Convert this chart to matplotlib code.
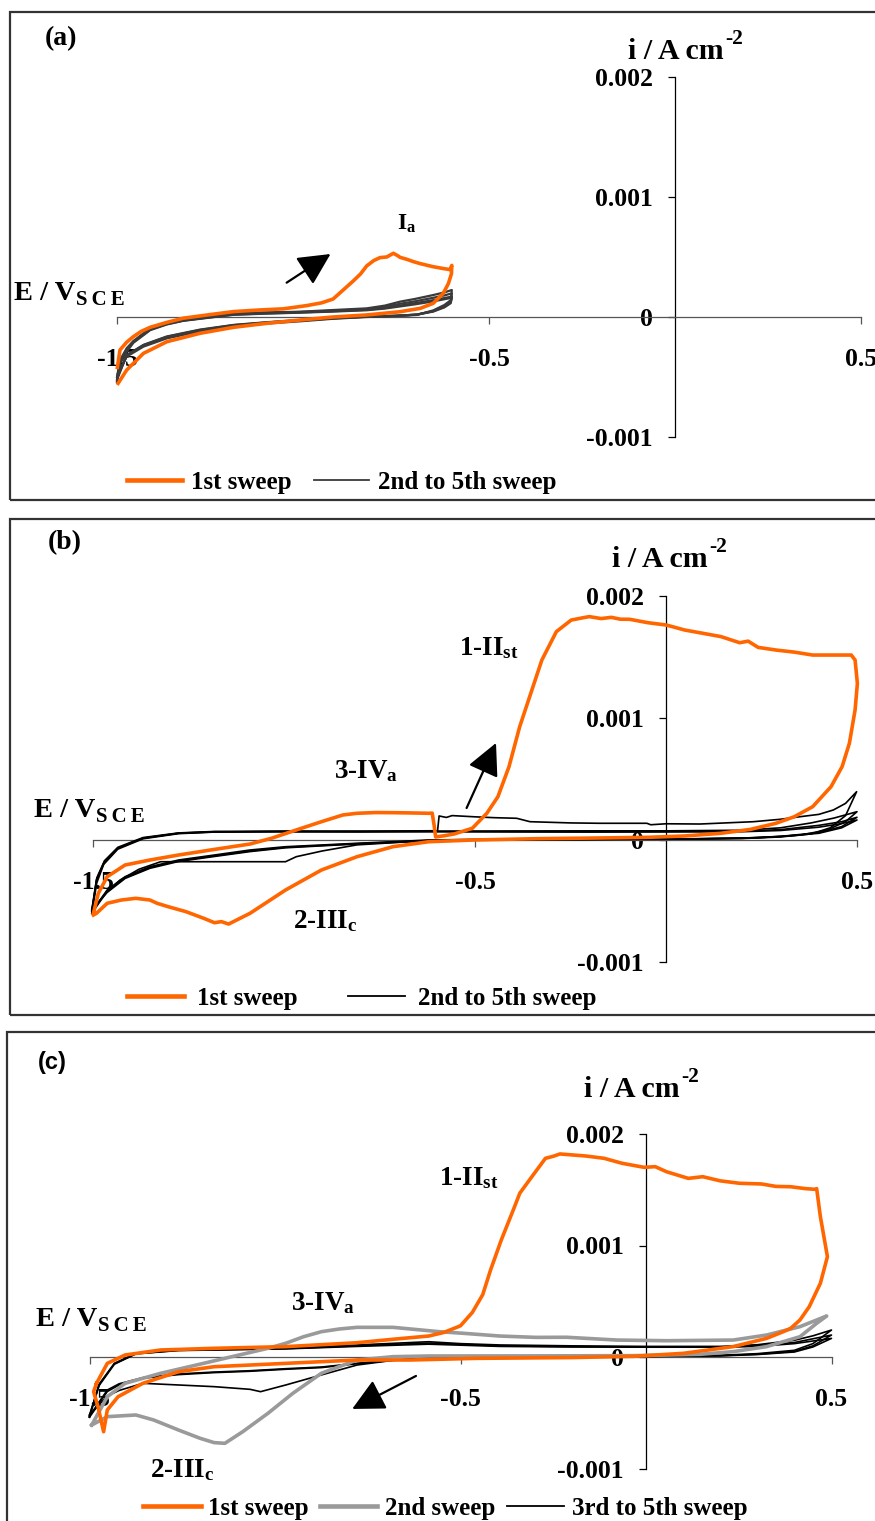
import numpy as np
import matplotlib
matplotlib.use("Agg")
import matplotlib.pyplot as plt
from matplotlib.lines import Line2D
from matplotlib.patches import Rectangle

plt.rcParams['font.family'] = ['Liberation Serif', 'DejaVu Serif']
plt.rcParams['font.weight'] = 'bold'
plt.rcParams['mathtext.default'] = 'regular'

# ---- data: (E / V_SCE, i / mA cm-2) ----
xticks = [-1.5, -0.5, 0.5]
xtick_labels = ["-1.5", "-0.5", "0.5"]
yticks = [-0.001, 0, 0.001, 0.002]
ytick_labels = ["-0.001", "0", "0.001", "0.002"]

# panel (a)
a_sweep1 = [(-1.499, -0.42), (-1.492, -0.275), (-1.474, -0.21), (-1.456, -0.164), (-1.435, -0.12),
            (-1.411, -0.086), (-1.366, -0.045), (-1.322, -0.01), (-1.25, 0.02), (-1.187, 0.045),
            (-1.12, 0.058), (-1.053, 0.068), (-0.99, 0.095), (-0.95, 0.118), (-0.919, 0.15),
            (-0.892, 0.225), (-0.865, 0.30), (-0.845, 0.36), (-0.829, 0.425), (-0.81, 0.47),
            (-0.793, 0.495), (-0.775, 0.50), (-0.757, 0.531), (-0.745, 0.51), (-0.739, 0.497),
            (-0.72, 0.48), (-0.703, 0.461), (-0.685, 0.445), (-0.665, 0.43), (-0.65, 0.419),
            (-0.625, 0.405), (-0.605, 0.395), (-0.600, 0.43), (-0.601, 0.36), (-0.609, 0.28),
            (-0.623, 0.197), (-0.65, 0.114), (-0.685, 0.072), (-0.739, 0.044), (-0.829, 0.017),
            (-0.919, 0.0), (-1.008, -0.025), (-1.098, -0.053), (-1.187, -0.086), (-1.277, -0.136),
            (-1.366, -0.206), (-1.429, -0.303), (-1.474, -0.442), (-1.497, -0.553)]
a_sweep2 = [(-1.500, -0.50), (-1.492, -0.36), (-1.474, -0.26), (-1.456, -0.20), (-1.411, -0.094),
            (-1.366, -0.05), (-1.322, -0.025), (-1.25, 0.005), (-1.187, 0.031), (-1.10, 0.038),
            (-1.008, 0.044), (-0.92, 0.058), (-0.829, 0.072), (-0.78, 0.095), (-0.739, 0.128),
            (-0.70, 0.15), (-0.65, 0.183), (-0.62, 0.205), (-0.600, 0.225), (-0.602, 0.142),
            (-0.62, 0.10), (-0.65, 0.055), (-0.694, 0.017), (-0.75, 0.008), (-0.829, 0.0),
            (-0.92, -0.015), (-1.008, -0.036), (-1.10, -0.055), (-1.187, -0.078), (-1.277, -0.12),
            (-1.366, -0.178), (-1.429, -0.247), (-1.474, -0.33), (-1.497, -0.47)]
a_sweep3 = [(-1.500, -0.52), (-1.492, -0.37), (-1.474, -0.27), (-1.456, -0.205), (-1.411, -0.10),
            (-1.366, -0.055), (-1.322, -0.028), (-1.25, 0.0), (-1.187, 0.025), (-1.10, 0.035),
            (-1.008, 0.042), (-0.92, 0.052), (-0.829, 0.066), (-0.78, 0.085), (-0.739, 0.11),
            (-0.70, 0.13), (-0.65, 0.16), (-0.62, 0.18), (-0.600, 0.197), (-0.603, 0.13),
            (-0.62, 0.09), (-0.65, 0.05), (-0.694, 0.02), (-0.75, 0.01), (-0.829, 0.002),
            (-0.92, -0.012), (-1.008, -0.03), (-1.10, -0.05), (-1.187, -0.072), (-1.277, -0.112),
            (-1.366, -0.17), (-1.429, -0.24), (-1.474, -0.325), (-1.497, -0.48)]
a_sweep4 = [(-1.500, -0.53), (-1.492, -0.38), (-1.474, -0.28), (-1.456, -0.21), (-1.411, -0.105),
            (-1.366, -0.06), (-1.322, -0.03), (-1.25, -0.003), (-1.187, 0.02), (-1.10, 0.03),
            (-1.008, 0.038), (-0.92, 0.048), (-0.829, 0.06), (-0.78, 0.075), (-0.739, 0.095),
            (-0.70, 0.115), (-0.65, 0.14), (-0.62, 0.158), (-0.600, 0.17), (-0.603, 0.12),
            (-0.62, 0.085), (-0.65, 0.048), (-0.694, 0.02), (-0.75, 0.01), (-0.829, 0.003),
            (-0.92, -0.01), (-1.008, -0.027), (-1.10, -0.046), (-1.187, -0.068), (-1.277, -0.108),
            (-1.366, -0.165), (-1.429, -0.235), (-1.474, -0.32), (-1.497, -0.49)]
a_sweep5 = [(-1.500, -0.54), (-1.492, -0.39), (-1.474, -0.29), (-1.456, -0.215), (-1.411, -0.11),
            (-1.366, -0.062), (-1.322, -0.032), (-1.25, -0.005), (-1.187, 0.018), (-1.10, 0.028),
            (-1.008, 0.036), (-0.92, 0.045), (-0.829, 0.056), (-0.78, 0.07), (-0.739, 0.088),
            (-0.70, 0.105), (-0.65, 0.13), (-0.62, 0.148), (-0.600, 0.16), (-0.603, 0.115),
            (-0.62, 0.08), (-0.65, 0.045), (-0.694, 0.02), (-0.75, 0.01), (-0.829, 0.004),
            (-0.92, -0.008), (-1.008, -0.025), (-1.10, -0.044), (-1.187, -0.066), (-1.277, -0.105),
            (-1.366, -0.162), (-1.429, -0.232), (-1.474, -0.318), (-1.497, -0.50)]

# panel (b)
b_sweep1 = [(-1.499, -0.601), (-1.486, -0.437), (-1.463, -0.301), (-1.416, -0.205), (-1.351, -0.164),
            (-1.276, -0.123), (-1.182, -0.077), (-1.089, -0.033), (-1.033, 0.014), (-0.968, 0.082),
            (-0.902, 0.150), (-0.846, 0.205), (-0.809, 0.219), (-0.76, 0.225), (-0.715, 0.224),
            (-0.67, 0.222), (-0.621, 0.219), (-0.612, 0.22), (-0.607, 0.12), (-0.603, 0.025),
            (-0.58, 0.035), (-0.555, 0.049), (-0.507, 0.096), (-0.469, 0.219), (-0.440, 0.355),
            (-0.411, 0.601), (-0.383, 0.929), (-0.354, 1.202), (-0.325, 1.475), (-0.287, 1.708),
            (-0.248, 1.803), (-0.22, 1.82), (-0.201, 1.831), (-0.17, 1.815), (-0.143, 1.825),
            (-0.12, 1.81), (-0.095, 1.809), (-0.047, 1.781), (0.001, 1.762), (0.049, 1.721),
            (0.097, 1.694), (0.144, 1.667), (0.193, 1.617), (0.215, 1.63), (0.241, 1.579),
            (0.288, 1.557), (0.336, 1.54), (0.384, 1.516), (0.43, 1.516), (0.485, 1.516),
            (0.495, 1.475), (0.501, 1.284), (0.495, 1.066), (0.480, 0.792), (0.461, 0.601),
            (0.432, 0.437), (0.384, 0.273), (0.336, 0.191), (0.288, 0.137), (0.221, 0.087),
            (0.144, 0.055), (0.049, 0.033), (-0.047, 0.022), (-0.191, 0.016), (-0.335, 0.011),
            (-0.503, 0.0), (-0.621, -0.014), (-0.715, -0.055), (-0.809, -0.137), (-0.902, -0.246),
            (-0.996, -0.410), (-1.089, -0.601), (-1.145, -0.689), (-1.164, -0.669), (-1.182, -0.678),
            (-1.210, -0.642), (-1.257, -0.587), (-1.304, -0.546), (-1.332, -0.519), (-1.351, -0.492),
            (-1.388, -0.478), (-1.426, -0.492), (-1.463, -0.519), (-1.491, -0.601), (-1.499, -0.615)]
b_sweep2 = [(-1.503, -0.587), (-1.491, -0.328), (-1.472, -0.191), (-1.435, -0.068), (-1.369, 0.014),
            (-1.276, 0.055), (-1.182, 0.066), (-1.0, 0.07), (-0.8, 0.072), (-0.65, 0.075),
            (-0.598, 0.076), (-0.594, 0.197), (-0.575, 0.185), (-0.56, 0.2), (-0.50, 0.19),
            (-0.45, 0.183), (-0.391, 0.178), (-0.356, 0.150), (-0.25, 0.14), (-0.173, 0.137),
            (-0.05, 0.137), (-0.04, 0.125), (0.0, 0.133), (0.089, 0.131), (0.229, 0.150),
            (0.30, 0.17), (0.351, 0.191), (0.40, 0.21), (0.438, 0.246), (0.47, 0.30), (0.499, 0.396),
            (0.47, 0.2), (0.43, 0.1), (0.38, 0.05), (0.3, 0.025), (0.2, 0.012), (0.0, 0.008),
            (-0.3, 0.006), (-0.5, 0.005), (-0.621, 0.0), (-0.715, -0.014), (-0.809, -0.027),
            (-0.902, -0.041), (-0.996, -0.055), (-1.089, -0.082), (-1.182, -0.123), (-1.276, -0.164),
            (-1.351, -0.219), (-1.416, -0.301), (-1.463, -0.410), (-1.503, -0.587)]
b_sweep3 = [(-1.503, -0.60), (-1.49, -0.35), (-1.472, -0.2), (-1.435, -0.075), (-1.369, 0.01),
            (-1.276, 0.052), (-1.182, 0.065), (-1.0, 0.07), (-0.8, 0.07), (-0.6, 0.072),
            (-0.4, 0.074), (-0.2, 0.075), (0.0, 0.075), (0.2, 0.08), (0.3, 0.1), (0.38, 0.14),
            (0.44, 0.18), (0.5, 0.232), (0.47, 0.15), (0.42, 0.08), (0.35, 0.04), (0.25, 0.02),
            (0.1, 0.01), (-0.2, 0.005), (-0.5, 0.0), (-0.65, -0.01), (-0.809, -0.04), (-0.9, -0.09),
            (-0.968, -0.137), (-0.996, -0.178), (-1.1, -0.178), (-1.2, -0.178), (-1.323, -0.178),
            (-1.38, -0.24), (-1.43, -0.33), (-1.465, -0.43), (-1.503, -0.60)]
b_sweep4 = [(-1.503, -0.58), (-1.49, -0.32), (-1.47, -0.18), (-1.435, -0.065), (-1.369, 0.016),
            (-1.276, 0.056), (-1.182, 0.068), (-1.0, 0.068), (-0.8, 0.066), (-0.6, 0.07),
            (-0.4, 0.07), (-0.2, 0.068), (0.0, 0.07), (0.2, 0.072), (0.3, 0.085), (0.4, 0.12),
            (0.46, 0.15), (0.5, 0.186), (0.46, 0.11), (0.4, 0.06), (0.3, 0.03), (0.2, 0.015),
            (0.0, 0.008), (-0.3, 0.005), (-0.5, 0.003), (-0.621, -0.004), (-0.715, -0.018),
            (-0.809, -0.03), (-0.902, -0.045), (-0.996, -0.06), (-1.089, -0.09), (-1.182, -0.13),
            (-1.276, -0.17), (-1.351, -0.225), (-1.416, -0.31), (-1.463, -0.42), (-1.503, -0.58)]
b_sweep5 = [(-1.503, -0.57), (-1.49, -0.31), (-1.47, -0.17), (-1.435, -0.06), (-1.369, 0.02),
            (-1.276, 0.058), (-1.182, 0.07), (-1.0, 0.072), (-0.8, 0.07), (-0.6, 0.068),
            (-0.4, 0.066), (-0.2, 0.065), (0.0, 0.066), (0.2, 0.068), (0.3, 0.078), (0.4, 0.105),
            (0.46, 0.135), (0.5, 0.164), (0.46, 0.1), (0.4, 0.055), (0.3, 0.028), (0.2, 0.014),
            (0.0, 0.006), (-0.3, 0.003), (-0.5, 0.002), (-0.621, -0.006), (-0.715, -0.02),
            (-0.809, -0.033), (-0.902, -0.048), (-0.996, -0.064), (-1.089, -0.095), (-1.182, -0.135),
            (-1.276, -0.176), (-1.351, -0.232), (-1.416, -0.315), (-1.463, -0.43), (-1.503, -0.57)]

# panel (c)
c_sweep1 = [(-1.481, -0.236), (-1.452, -0.057), (-1.404, 0.018), (-1.308, 0.063), (-1.164, 0.078),
            (-0.971, 0.093), (-0.779, 0.128), (-0.682, 0.159), (-0.586, 0.188), (-0.545, 0.22),
            (-0.50, 0.28), (-0.468, 0.40), (-0.44, 0.56), (-0.419, 0.78), (-0.390, 1.05),
            (-0.360, 1.30), (-0.340, 1.47), (-0.301, 1.647), (-0.271, 1.782), (-0.25, 1.80),
            (-0.232, 1.821), (-0.163, 1.803), (-0.113, 1.782), (-0.064, 1.737), (-0.005, 1.701),
            (0.025, 1.707), (0.055, 1.662), (0.114, 1.602), (0.153, 1.617), (0.20, 1.58),
            (0.252, 1.558), (0.311, 1.552), (0.35, 1.53), (0.390, 1.527), (0.430, 1.51),
            (0.455, 1.504), (0.460, 1.51), (0.470, 1.259), (0.489, 0.900), (0.470, 0.661),
            (0.440, 0.451), (0.415, 0.332), (0.390, 0.257), (0.370, 0.227), (0.325, 0.167),
            (0.235, 0.093), (0.101, 0.033), (-0.034, 0.006), (-0.2, -0.005), (-0.456, -0.012),
            (-0.636, -0.027), (-0.779, -0.027), (-0.971, -0.057), (-1.067, -0.072), (-1.164, -0.087),
            (-1.260, -0.132), (-1.356, -0.236), (-1.423, -0.356), (-1.452, -0.475), (-1.462, -0.670),
            (-1.477, -0.446), (-1.489, -0.311), (-1.481, -0.236)]
c_sweep2 = [(-1.494, -0.61), (-1.452, -0.356), (-1.404, -0.236), (-1.308, -0.146), (-1.212, -0.072),
            (-1.116, 0.003), (-1.019, 0.078), (-0.971, 0.123), (-0.923, 0.182), (-0.875, 0.227),
            (-0.827, 0.251), (-0.779, 0.266), (-0.682, 0.266), (-0.634, 0.251), (-0.557, 0.227),
            (-0.490, 0.212), (-0.394, 0.188), (-0.297, 0.176), (-0.214, 0.177), (-0.079, 0.152),
            (0.056, 0.146), (0.235, 0.152), (0.325, 0.197), (0.415, 0.272), (0.487, 0.368),
            (0.460, 0.302), (0.415, 0.182), (0.325, 0.093), (0.235, 0.048), (0.146, 0.024),
            (-0.034, 0.012), (-0.3, 0.01), (-0.586, 0.009), (-0.682, 0.003), (-0.779, -0.027),
            (-0.875, -0.146), (-0.952, -0.326), (-1.019, -0.505), (-1.087, -0.670), (-1.135, -0.774),
            (-1.164, -0.768), (-1.202, -0.729), (-1.260, -0.655), (-1.327, -0.565), (-1.375, -0.520),
            (-1.452, -0.535), (-1.494, -0.61)]
c_sweep3 = [(-1.50, -0.52), (-1.472, -0.236), (-1.433, -0.057), (-1.375, 0.033), (-1.26, 0.063),
            (-1.1, 0.07), (-0.971, 0.078), (-0.779, 0.108), (-0.586, 0.137), (-0.5, 0.12),
            (-0.394, 0.108), (-0.2, 0.1), (0.0, 0.095), (0.2, 0.095), (0.3, 0.11), (0.4, 0.15),
            (0.45, 0.19), (0.5, 0.242), (0.45, 0.12), (0.4, 0.06), (0.3, 0.03), (0.2, 0.015),
            (0.0, 0.008), (-0.3, 0.003), (-0.586, -0.012), (-0.682, -0.03), (-0.779, -0.072),
            (-0.875, -0.161), (-0.971, -0.251), (-1.039, -0.311), (-1.067, -0.290), (-1.164, -0.266),
            (-1.26, -0.251), (-1.356, -0.236), (-1.42, -0.3), (-1.452, -0.35), (-1.50, -0.52)]
c_sweep4 = [(-1.50, -0.53), (-1.475, -0.25), (-1.433, -0.06), (-1.375, 0.03), (-1.26, 0.06),
            (-1.1, 0.068), (-0.971, 0.075), (-0.779, 0.1), (-0.586, 0.125), (-0.394, 0.1),
            (-0.2, 0.093), (0.0, 0.09), (0.2, 0.09), (0.3, 0.1), (0.4, 0.13), (0.5, 0.197),
            (0.45, 0.1), (0.4, 0.05), (0.3, 0.025), (0.2, 0.012), (0.0, 0.006), (-0.3, 0.0),
            (-0.586, -0.012), (-0.682, -0.027), (-0.779, -0.057), (-0.875, -0.09), (-0.971, -0.105),
            (-1.067, -0.123), (-1.164, -0.135), (-1.26, -0.152), (-1.356, -0.185), (-1.42, -0.24),
            (-1.452, -0.296), (-1.50, -0.53)]
c_sweep5 = [(-1.50, -0.54), (-1.475, -0.26), (-1.433, -0.065), (-1.375, 0.028), (-1.26, 0.058),
            (-1.1, 0.066), (-0.971, 0.073), (-0.779, 0.095), (-0.586, 0.115), (-0.394, 0.095),
            (-0.2, 0.09), (0.0, 0.088), (0.2, 0.088), (0.3, 0.095), (0.4, 0.12), (0.5, 0.167),
            (0.45, 0.09), (0.4, 0.045), (0.3, 0.022), (0.2, 0.01), (0.0, 0.005), (-0.3, -0.002),
            (-0.586, -0.015), (-0.682, -0.03), (-0.779, -0.06), (-0.875, -0.095), (-0.971, -0.11),
            (-1.067, -0.128), (-1.164, -0.14), (-1.26, -0.158), (-1.356, -0.19), (-1.42, -0.25),
            (-1.452, -0.31), (-1.50, -0.54)]

ORANGE = '#ff6600'
GREY = '#9a9a9a'
DARK = '#3a3a3a'

W, H = 875, 1521
fig = plt.figure(figsize=(W / 100, H / 100), dpi=100)


def fx(px):
    return px / W


def fy(py):
    return 1 - py / H


def panel_axes(x_lo, x_hi, y_top, y_bot):
    # pixel columns of E=-1.5 / 0.5 and pixel rows of i=0.002 / -0.001
    ax = fig.add_axes([fx(x_lo), fy(y_bot), (x_hi - x_lo) / W, (y_bot - y_top) / H])
    ax.set_xlim(-1.5, 0.5)
    ax.set_ylim(-0.001, 0.002)
    ax.patch.set_visible(False)
    for s in ['top', 'right']:
        ax.spines[s].set_visible(False)
    ax.spines['left'].set_position(('data', 0))
    ax.spines['bottom'].set_position(('data', 0))
    ax.spines['left'].set_linewidth(0.9)
    ax.spines['bottom'].set_linewidth(0.9)
    ax.spines['bottom'].set_color('#555555')
    ax.set_xticks(xticks)
    ax.set_xticklabels(xtick_labels)
    ax.set_yticks(yticks)
    ax.set_yticklabels(ytick_labels)
    ax.tick_params(axis='x', direction='out', length=5, width=0.9, color='#555555',
                   pad=17, labelsize=18.5)
    ax.tick_params(axis='y', direction='out', length=5, width=0.9, pad=11, labelsize=18.5)
    return ax


def draw(ax, pts, color, lw):
    e, i = np.array(pts).T
    ax.plot(e, i / 1000, color=color, lw=lw, zorder=3, clip_on=False, solid_joinstyle='round')


def sweep_legend(ax, entries, x0, yc, hl, htp, cs):
    handles = [Line2D([], [], color=c, lw=w) for c, w, _ in entries]
    labels = [t for _, _, t in entries]
    ax.legend(handles, labels, loc='center left', bbox_to_anchor=(fx(x0), fy(yc)),
              bbox_transform=fig.transFigure, ncol=len(entries), frameon=False,
              borderpad=0, borderaxespad=0, handlelength=hl, handletextpad=htp,
              columnspacing=cs, prop={'size': 18, 'weight': 'bold'})


def px_text(x, y, s, **kw):
    return fig.text(fx(x), fy(y), s, **kw)


def current_label(ax, x, y):
    # "i / A cm" with a raised "-2" hung off its top right corner
    t = px_text(x, y, 'i / A cm', fontsize=21.5, ha='left', va='baseline')
    ax.annotate('-2', xy=(1, 1), xycoords=t, xytext=(1.5, -4), textcoords='offset points',
                ha='left', va='baseline', fontsize=15.5)


def potential_label(ax, x, y):
    # "E / V" with a lowered, letter-spaced "SCE"
    t = px_text(x, y, 'E / V', fontsize=20.5, ha='left', va='baseline')
    ax.annotate('S\u2009C\u2009E', xy=(1, 0), xycoords=t, xytext=(0.5, 0.5),
                textcoords='offset points', ha='left', va='baseline', fontsize=15)


def arrow(ax, tail, tip):
    ax.annotate('', xy=(tip[0], tip[1] / 1000), xytext=(tail[0], tail[1] / 1000),
                arrowprops=dict(arrowstyle='-|>,head_length=0.9,head_width=0.45', color='black',
                                lw=1.6, mutation_scale=22, shrinkA=0, shrinkB=0))


def peak_label(ax, e, i, s, size=19.5):
    ax.text(e, i / 1000, s, fontsize=size, ha='left', va='baseline')


# panel frames
for top, bot, left in [(12, 500, 10), (519, 1015, 10), (1032, 1540, 7)]:
    fig.add_artist(Rectangle((fx(left), fy(bot)), 1.2, (bot - top) / H,
                             transform=fig.transFigure, fill=False,
                             edgecolor='#333333', lw=1.6))

# (a)
ax_a = panel_axes(117, 861, 77, 437)
for sw in [a_sweep2, a_sweep3, a_sweep4, a_sweep5]:
    draw(ax_a, sw, DARK, 1.6)
draw(ax_a, a_sweep1, ORANGE, 2.6)
peak_label(ax_a, -0.747, 0.725, r'I$_{a}$', size=17)
arrow(ax_a, (-1.044, 0.286), (-0.926, 0.525))
sweep_legend(ax_a, [(ORANGE, 3.3, '1st sweep'), (DARK, 1.3, '2nd to 5th sweep')],
             127, 482, 2.2, 0.35, 0.9)
px_text(61, 39, '(a)', fontsize=20, ha='center', va='center')
current_label(ax_a, 628, 59)
potential_label(ax_a, 14, 300)

# (b)
ax_b = panel_axes(93, 857, 596, 962)
for sw in [b_sweep2, b_sweep3, b_sweep4, b_sweep5]:
    draw(ax_b, sw, 'black', 1.2)
draw(ax_b, b_sweep1, ORANGE, 2.6)
peak_label(ax_b, -0.542, 1.516, r'1-II$_{st}$')
peak_label(ax_b, -0.87, 0.508, r'3-IV$_{a}$')
peak_label(ax_b, -0.976, -0.721, r'2-III$_{c}$')
arrow(ax_b, (-0.522, 0.262), (-0.445, 0.795))
sweep_legend(ax_b, [(ORANGE, 3.3, '1st sweep'), ('black', 1.3, '2nd to 5th sweep')],
             127, 998, 2.3, 0.5, 2.0)
px_text(65, 543, '(b)', fontsize=20, ha='center', va='center')
current_label(ax_b, 612, 567)
potential_label(ax_b, 34, 817)

# (c)
ax_c = panel_axes(89.5, 831.5, 1134, 1468.5)
for sw in [c_sweep3, c_sweep4, c_sweep5]:
    draw(ax_c, sw, 'black', 1.2)
draw(ax_c, c_sweep2, GREY, 2.6)
draw(ax_c, c_sweep1, ORANGE, 2.6)
peak_label(ax_c, -0.558, 1.543, r'1-II$_{st}$')
peak_label(ax_c, -0.957, 0.422, r'3-IV$_{a}$')
peak_label(ax_c, -1.337, -1.076, r'2-III$_{c}$')
arrow(ax_c, (-0.620, -0.170), (-0.792, -0.466))
sweep_legend(ax_c, [(ORANGE, 3.3, '1st sweep'), (GREY, 3.3, '2nd sweep'),
                    ('black', 1.3, '3rd to 5th sweep')],
             143, 1508, 2.3, 0.3, 0.45)
px_text(52, 1063, '(c)', fontsize=17, ha='center', va='center',
        family=['Liberation Sans', 'DejaVu Sans'])
current_label(ax_c, 584, 1097)
potential_label(ax_c, 36, 1326)

fig.savefig('out.png', dpi=100)
